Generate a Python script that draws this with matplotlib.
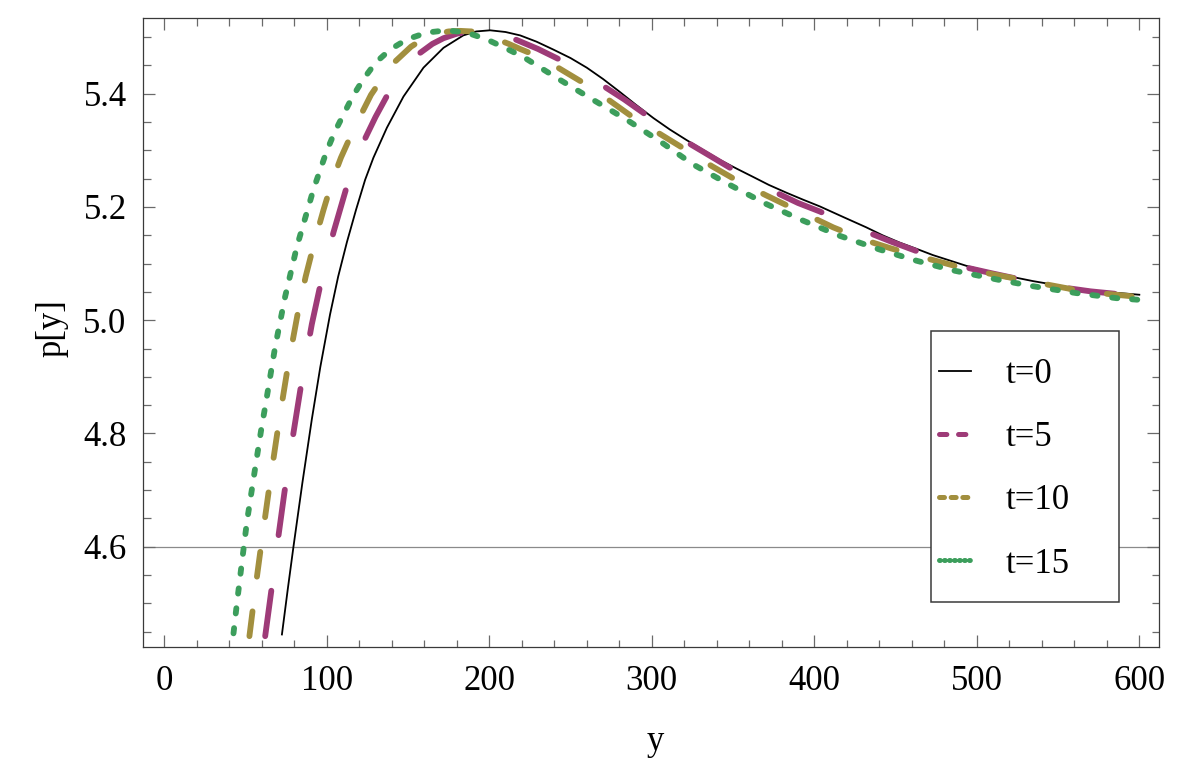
import matplotlib
matplotlib.use("Agg")
import matplotlib.pyplot as plt
from matplotlib.lines import Line2D
from matplotlib.patches import Rectangle
from matplotlib.ticker import MultipleLocator, FormatStrFormatter

plt.rcParams['font.family'] = ['Liberation Serif', 'DejaVu Serif']
plt.rcParams['lines.scale_dashes'] = False

# ---------------- data ----------------
labels = ["t=0", "t=5", "t=10", "t=15"]

x_t0 = [72.4, 76, 79.5, 85, 90.8, 96, 102, 107, 112.4, 118, 123.6, 128.7, 137, 147.2,
        159.5, 171.8, 184, 192, 200.5, 210, 219, 229, 239.4, 250, 260, 270, 280.4, 290,
        301, 311, 321.5, 332, 342, 352, 362.4, 372, 383, 393, 403.4, 418, 432, 442,
        452.6, 463, 473, 493.6, 514, 534.7, 555, 575.6, 600]
y_t0 = [4.445, 4.525, 4.600, 4.713, 4.825, 4.917, 5.010, 5.077, 5.138, 5.195, 5.248,
        5.287, 5.340, 5.395, 5.446, 5.481, 5.503, 5.510, 5.512, 5.509, 5.503, 5.492,
        5.478, 5.463, 5.446, 5.426, 5.403, 5.381, 5.357, 5.337, 5.318, 5.300, 5.283,
        5.268, 5.253, 5.239, 5.225, 5.213, 5.201, 5.182, 5.164, 5.150, 5.137, 5.126,
        5.115, 5.096, 5.081, 5.069, 5.059, 5.051, 5.045]

x_t5 = [62.1, 66, 69.5, 74, 79.5, 85, 90.8, 96.4, 104.1, 112.4, 118, 123.6, 130, 137,
        147, 157.4, 165, 171.8, 180, 186, 191, 197, 205, 216.8, 230, 243.5, 257, 270,
        283, 296.8, 310, 322.5, 336, 350, 363, 376.8, 390, 403.4, 418, 434, 448, 463,
        478, 493.6, 509, 522, 538, 555, 570, 584, 600]
y_t5 = [4.442, 4.525, 4.603, 4.697, 4.801, 4.900, 4.993, 5.067, 5.155, 5.237, 5.282,
        5.321, 5.359, 5.396, 5.440, 5.472, 5.488, 5.498, 5.506, 5.509, 5.510, 5.509,
        5.505, 5.495, 5.479, 5.460, 5.438, 5.414, 5.390, 5.362, 5.337, 5.313, 5.290,
        5.266, 5.246, 5.225, 5.207, 5.192, 5.173, 5.154, 5.138, 5.122, 5.107, 5.093,
        5.083, 5.075, 5.066, 5.057, 5.051, 5.047, 5.042]

x_t10 = [52.4, 56, 59.5, 65, 70.8, 76, 82, 87, 92.4, 98, 103.6, 108.7, 117, 127.2, 139.5,
         151.8, 160, 168, 175, 182, 189, 196, 204, 212, 219, 226.6, 240, 258, 273, 288.6,
         305, 320.9, 337, 353.4, 370, 386.6, 400, 411.6, 422, 435, 447, 456.7, 468, 480,
         491.6, 510, 528.5, 547, 565.4, 582, 600]
y_t10 = [4.442, 4.525, 4.600, 4.713, 4.825, 4.917, 5.010, 5.077, 5.138, 5.195, 5.248,
         5.287, 5.340, 5.398, 5.450, 5.483, 5.498, 5.506, 5.510, 5.511, 5.510, 5.505,
         5.497, 5.488, 5.479, 5.470, 5.450, 5.419, 5.390, 5.358, 5.329, 5.301, 5.272,
         5.245, 5.221, 5.198, 5.180, 5.164, 5.152, 5.138, 5.127, 5.119, 5.110, 5.101,
         5.092, 5.081, 5.071, 5.061, 5.051, 5.046, 5.041]

x_t15 = [42.6, 44.7, 47.8, 50.9, 56, 60, 62.1, 68.3, 74.4, 81.6, 88.7, 91.8, 96, 100,
         104.8, 110.4, 115.9, 122.6, 130.1, 139, 149.3, 161.6, 173.8, 186.1, 198.4,
         209.6, 220.9, 241.5, 264, 284.6, 305, 325.5, 348, 370.6, 393, 415.7, 440, 463,
         485.4, 514, 534.7, 561, 585.8, 600]
y_t15 = [4.447, 4.500, 4.573, 4.645, 4.740, 4.813, 4.847, 4.954, 5.042, 5.130, 5.200,
         5.231, 5.266, 5.299, 5.332, 5.364, 5.395, 5.426, 5.455, 5.478, 5.496, 5.508,
         5.512, 5.508, 5.496, 5.481, 5.465, 5.428, 5.389, 5.354, 5.316, 5.275, 5.239,
         5.205, 5.176, 5.149, 5.125, 5.105, 5.088, 5.071, 5.060, 5.048, 5.039, 5.036]

# ---------------- figure ----------------
fig = plt.figure(figsize=(12, 7.79), dpi=100)
ax = fig.add_axes([0.11942, 0.16983, 0.84667, 0.80668])

FS = 25
c_mag = '#9E3B78'
c_gold = '#A28F3E'
c_green = '#3C9E5C'
LW = 4.2

ax.axhline(4.6, color='#8a8a8a', lw=0.9, zorder=1)

ax.plot(x_t0, y_t0, color='black', lw=1.3, zorder=3)
ax.plot(x_t5, y_t5, color=c_mag, lw=LW, dashes=(33.0, 40.4), dash_capstyle='round', zorder=3)
ax.plot(x_t10, y_t10, color=c_gold, lw=LW, dashes=(18.0, 25.2), dash_capstyle='round', zorder=3)
ax.plot(x_t15, y_t15, color=c_green, lw=LW, dashes=(3.8, 10.6), dash_capstyle='round', zorder=3)

ax.set_xlim(-12.9, 612.3)
ax.set_ylim(4.4234, 5.5332)

ax.xaxis.set_major_locator(MultipleLocator(100))
ax.xaxis.set_minor_locator(MultipleLocator(20))
ax.yaxis.set_major_locator(MultipleLocator(0.2))
ax.yaxis.set_minor_locator(MultipleLocator(0.05))
ax.xaxis.set_major_formatter(FormatStrFormatter('%d'))
ax.yaxis.set_major_formatter(FormatStrFormatter('%.1f'))

ax.tick_params(which='both', direction='in', top=True, right=True,
               color='#6a6a6a', width=0.9, labelsize=FS, labelcolor='black')
ax.tick_params(which='major', length=8.6)
ax.tick_params(which='minor', length=5.4)
ax.tick_params(axis='x', which='major', pad=13)
ax.tick_params(axis='y', which='major', pad=12)

for sp in ax.spines.values():
    sp.set_color('#3a3a3a')
    sp.set_linewidth(0.9)

ax.set_xlabel('y', fontsize=FS, va='baseline', ha='center')
ax.xaxis.set_label_coords(0.5036, -0.1644)
ax.set_ylabel('p[y]', fontsize=FS, va='center', ha='center')
ax.yaxis.set_label_coords(-0.0894, 0.5072)

# legend frame
ax.add_patch(Rectangle((0.7753, 0.0711), 0.9603 - 0.7753, 0.5024 - 0.0711,
                       transform=ax.transAxes, facecolor='white',
                       edgecolor='#3a3a3a', lw=1.1, zorder=4))

handles = [
    Line2D([], [], color='black', lw=1.3),
    Line2D([], [], color=c_mag, lw=3.6, dashes=(5.3, 8.4), dash_capstyle='round'),
    Line2D([], [], color=c_gold, lw=3.6, dashes=(3.6, 4.8), dash_capstyle='round'),
    Line2D([], [], color=c_green, lw=3.6, dashes=(0.6, 3.0), dash_capstyle='round'),
]
leg = ax.legend(handles, labels, loc='upper left', bbox_to_anchor=(0.7832, 0.4595),
                frameon=False, fontsize=FS, borderpad=0, borderaxespad=0,
                handlelength=0.92, handletextpad=1.0, labelspacing=0.87)
leg.set_zorder(5)

fig.savefig('out.png', dpi=100)
